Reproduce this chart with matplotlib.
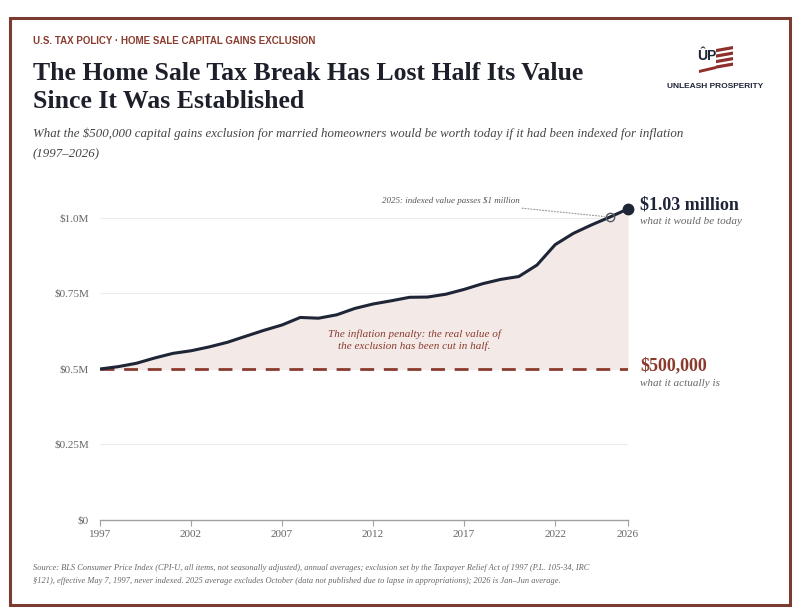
import matplotlib
matplotlib.use("Agg")
import matplotlib.pyplot as plt
import matplotlib.patches as mpatches

# ---------------- data ----------------
years = list(range(1997, 2027))
indexed_value = [500.0, 507.8, 519.0, 536.4, 551.7, 560.4, 573.2, 588.5, 608.4, 628.0,
                 645.8, 670.7, 668.2, 679.4, 700.6, 715.3, 725.9, 737.4, 738.3, 747.7,
                 763.6, 782.2, 796.6, 806.2, 844.2, 911.8, 949.2, 977.3, 1003.0, 1030.0]
indexed_value = [v * 1000 for v in indexed_value]
nominal_value = 500000
y_ticks = [0, 250000, 500000, 750000, 1000000]
y_tick_labels = ["$0", "$0.25M", "$0.5M", "$0.75M", "$1.0M"]
x_ticks = [1997, 2002, 2007, 2012, 2017, 2022, 2026]

W, H = 802, 616
fig = plt.figure(figsize=(W / 100, H / 100), dpi=100)
fig.patch.set_facecolor("white")

def fx(px):
    return px / W

def fy(py):
    return 1 - py / H

SERIF = ["Liberation Serif", "DejaVu Serif"]
NARROW = ["Liberation Sans Narrow", "Liberation Sans", "DejaVu Sans"]
BROWN = "#8a3b2e"
NAVY = "#1e2536"
GREY = "#666666"

# border
fig.patches.append(mpatches.Rectangle((fx(10), fy(605)), fx(790) - fx(10), fy(18) - fy(605),
                                      transform=fig.transFigure, fill=False,
                                      edgecolor="#7b3b30", linewidth=2.2))

# axes
ax = fig.add_axes([fx(100), fy(520), fx(628) - fx(100), fy(200) - fy(520)])
ax.set_xlim(1997, 2026)
ax.set_ylim(0, 1.0596e6)

ax.fill_between(years, indexed_value, nominal_value, color="#f3e9e7", linewidth=0, zorder=1)
ax.axhline(nominal_value, color=BROWN, linewidth=2, dashes=(5, 3.5), zorder=3)
ax.plot(years, indexed_value, color=NAVY, linewidth=2.2, zorder=4, solid_capstyle="round")
ax.plot([years[-1]], [indexed_value[-1]], "o", color=NAVY, markersize=7.5, zorder=5,
        clip_on=False)
ax.plot([years[-2]], [indexed_value[-2]], "o", markerfacecolor="none",
        markeredgecolor="#555a66", markersize=6, markeredgewidth=1, zorder=5)

for s in ["top", "right", "left"]:
    ax.spines[s].set_visible(False)
ax.spines["bottom"].set_color("#a0a0a0")
ax.spines["bottom"].set_linewidth(1)
ax.set_yticks(y_ticks)
ax.set_yticklabels(y_tick_labels)
ax.set_xticks(x_ticks)
ax.set_xticklabels([str(x) for x in x_ticks])
ax.tick_params(axis="y", length=0, pad=8, labelsize=8, labelcolor=GREY)
ax.tick_params(axis="x", length=4, color="#a0a0a0", pad=3, labelsize=8, labelcolor=GREY)
for lab in ax.get_xticklabels() + ax.get_yticklabels():
    lab.set_family(SERIF)
for yv in y_ticks[1:]:
    ax.axhline(yv, color="#ececec", linewidth=0.8, zorder=0)

# annotation for 2025
ax.annotate("2025: indexed value passes $1 million",
            xy=(years[-2], indexed_value[-2]), xycoords="data",
            xytext=(fx(520), fy(201)), textcoords="figure fraction",
            ha="right", va="center", fontsize=6.5, style="italic", color="#555555",
            family=SERIF,
            arrowprops=dict(arrowstyle="-", linestyle=":", color="#999999", lw=0.8,
                            shrinkA=3, shrinkB=4))

fig.text(fx(414), fy(340), "The inflation penalty: the real value of\nthe exclusion has been cut in half.",
         ha="center", va="center", fontsize=8, style="italic", color=BROWN,
         family=SERIF, linespacing=1.3)

# right labels
fig.text(fx(640), fy(205), "$1.03 million", ha="left", va="center", fontsize=13,
         weight="bold", color=NAVY, family=SERIF)
fig.text(fx(640), fy(222), "what it would be today", ha="left", va="center", fontsize=8,
         style="italic", color=GREY, family=SERIF)
fig.text(fx(640), fy(366), "$500,000", ha="left", va="center", fontsize=13,
         weight="bold", color=BROWN, family=SERIF)
fig.text(fx(640), fy(383), "what it actually is", ha="left", va="center", fontsize=8,
         style="italic", color=GREY, family=SERIF)

# header
fig.text(fx(33), fy(41), "U.S. TAX POLICY · HOME SALE CAPITAL GAINS EXCLUSION",
         ha="left", va="center", fontsize=7, weight="bold", color=BROWN, family=NARROW)
fig.text(fx(33), fy(73), "The Home Sale Tax Break Has Lost Half Its Value",
         ha="left", va="center", fontsize=18.5, weight="bold", color="#1d1f2a", family=SERIF)
fig.text(fx(33), fy(102), "Since It Was Established",
         ha="left", va="center", fontsize=18.5, weight="bold", color="#1d1f2a", family=SERIF)
fig.text(fx(33), fy(134),
         "What the $500,000 capital gains exclusion for married homeowners would be worth today if it had been indexed for inflation",
         ha="left", va="center", fontsize=9.3, style="italic", color="#444444", family=SERIF)
fig.text(fx(33), fy(154), "(1997–2026)",
         ha="left", va="center", fontsize=9.3, style="italic", color="#444444", family=SERIF)

# logo
fig.text(fx(707), fy(56), "ÛP", ha="center", va="center", fontsize=10, weight="bold",
         color=NAVY, family=NARROW)
for i in range(4):
    y0 = 46 + i * 5.5
    x0 = 716
    poly = mpatches.Polygon([(fx(x0), fy(y0 + 3)), (fx(x0 + 17), fy(y0)),
                             (fx(x0 + 17), fy(y0 + 3.2)), (fx(x0), fy(y0 + 6.2))],
                            closed=True, transform=fig.transFigure,
                            facecolor="#8e2f2c", edgecolor="none")
    fig.patches.append(poly)
fig.patches.append(mpatches.Polygon([(fx(699), fy(70)), (fx(716), fy(66)), (fx(716), fy(69)), (fx(699), fy(73))],
                                    closed=True, transform=fig.transFigure,
                                    facecolor="#8e2f2c", edgecolor="none"))
fig.text(fx(715), fy(86), "UNLEASH PROSPERITY", ha="center", va="center", fontsize=6,
         weight="bold", color=NAVY, family=NARROW)

# source
fig.text(fx(33), fy(568),
         "Source: BLS Consumer Price Index (CPI-U, all items, not seasonally adjusted), annual averages; exclusion set by the Taxpayer Relief Act of 1997 (P.L. 105-34, IRC",
         ha="left", va="center", fontsize=6, style="italic", color="#666666", family=SERIF)
fig.text(fx(33), fy(581),
         "§121), effective May 7, 1997, never indexed. 2025 average excludes October (data not published due to lapse in appropriations); 2026 is Jan–Jun average.",
         ha="left", va="center", fontsize=6, style="italic", color="#666666", family=SERIF)

fig.savefig("out.png", dpi=100, facecolor="white")
